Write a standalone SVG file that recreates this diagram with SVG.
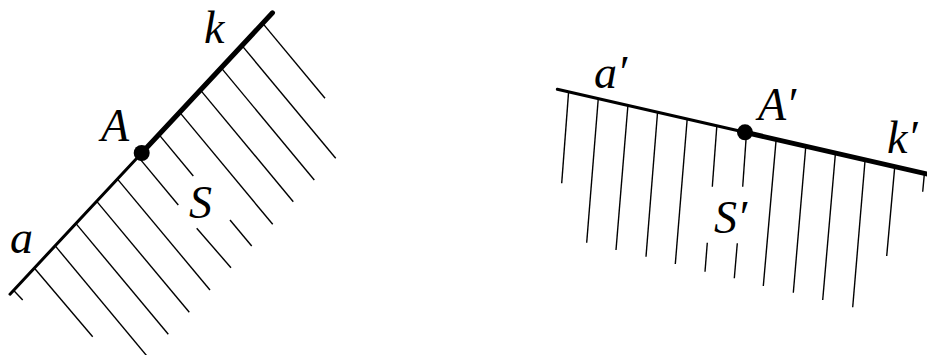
<svg xmlns="http://www.w3.org/2000/svg" width="927" height="355" viewBox="0 0 927 355">
<style>
.h{stroke:#000;stroke-width:1.4;fill:none}
.thin{stroke:#000;stroke-width:3;stroke-linecap:round;fill:none}
.thick{stroke:#000;stroke-width:5;stroke-linecap:round;fill:none}
.pt{fill:#000}
.lbl{font-family:"Liberation Serif","Times New Roman",serif;font-style:italic;font-size:46px;fill:#000}
</style>
<rect width="927" height="355" fill="#fff"/>
<g id="left-figure">
<g id="left-hatching">
<line class="h" x1="13.75" y1="290.4" x2="22.7" y2="300"/>
<line class="h" x1="34.5" y1="268.2" x2="92.7" y2="336.7"/>
<line class="h" x1="55.25" y1="245.9" x2="147.5" y2="356.7"/>
<line class="h" x1="76" y1="223.6" x2="168.3" y2="334.3"/>
<line class="h" x1="96.75" y1="201.4" x2="189.3" y2="312.3"/>
<line class="h" x1="117.5" y1="179.1" x2="210" y2="290"/>
<line class="h" x1="138.25" y1="156.9" x2="178.3" y2="205"/>
<line class="h" x1="196.7" y1="228.3" x2="231" y2="267.7"/>
<line class="h" x1="159" y1="134.6" x2="193.3" y2="176"/>
<line class="h" x1="230" y1="220" x2="251.7" y2="246"/>
<line class="h" x1="179.75" y1="112.4" x2="272.7" y2="224.3"/>
<line class="h" x1="200.5" y1="90.1" x2="293.3" y2="201.7"/>
<line class="h" x1="221.25" y1="67.9" x2="314.3" y2="180"/>
<line class="h" x1="242" y1="45.6" x2="335.7" y2="158.3"/>
<line class="h" x1="262.75" y1="23.4" x2="325" y2="98.3"/>
</g>
<g id="line-a">
<line class="thin" x1="10" y1="294.2" x2="141.7" y2="153"/>
</g>
<g id="line-k">
<line class="thick" x1="141.7" y1="153" x2="272.5" y2="12.8"/>
</g>
<g id="point-A">
<circle class="pt" cx="141.7" cy="153" r="8"/>
<text class="lbl" x="101" y="141">A</text>
</g>
<text class="lbl" x="204" y="43">k</text>
<text class="lbl" x="10" y="253">a</text>
<text class="lbl" x="189" y="218">S</text>
</g>
<g id="right-figure">
<g id="right-hatching">
<line class="h" x1="568.6" y1="91.9" x2="561.7" y2="183.3"/>
<line class="h" x1="598.25" y1="98.7" x2="586.7" y2="242.7"/>
<line class="h" x1="627.9" y1="105.5" x2="616" y2="250"/>
<line class="h" x1="657.55" y1="112.3" x2="646" y2="256.7"/>
<line class="h" x1="687.2" y1="119" x2="675.3" y2="264"/>
<line class="h" x1="716.85" y1="125.8" x2="712.3" y2="186.7"/>
<line class="h" x1="707.3" y1="242.7" x2="705" y2="271.7"/>
<line class="h" x1="746.5" y1="132.6" x2="742.7" y2="186.7"/>
<line class="h" x1="737.3" y1="243.3" x2="734.3" y2="278.3"/>
<line class="h" x1="776.15" y1="139.4" x2="763.3" y2="286"/>
<line class="h" x1="805.8" y1="146.2" x2="793.3" y2="292.7"/>
<line class="h" x1="835.45" y1="153" x2="822.7" y2="300"/>
<line class="h" x1="865.1" y1="159.8" x2="852.7" y2="307.3"/>
<line class="h" x1="894.75" y1="166.6" x2="886.7" y2="256"/>
<line class="h" x1="924.4" y1="173.4" x2="922.7" y2="191.7"/>
</g>
<g id="line-a-prime">
<line class="thin" x1="557.3" y1="89.3" x2="745" y2="132.3"/>
</g>
<g id="line-k-prime">
<line class="thick" x1="745" y1="132.3" x2="935" y2="175.8"/>
</g>
<g id="point-A-prime">
<circle class="pt" cx="745" cy="132.3" r="8"/>
<text class="lbl" x="758" y="120">A′</text>
</g>
<text class="lbl" x="594" y="88">a′</text>
<text class="lbl" x="887" y="153">k′</text>
<text class="lbl" x="714" y="233">S′</text>
</g>
</svg>
